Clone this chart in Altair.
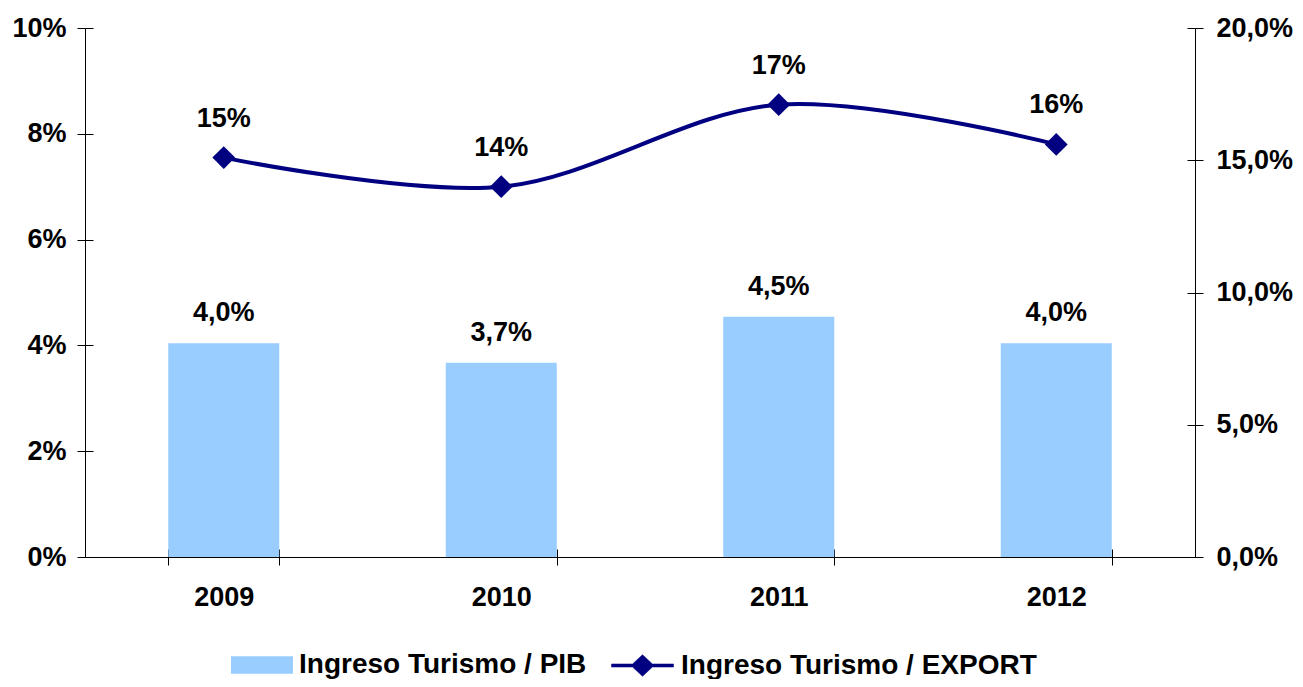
import altair as alt
import pandas as pd

years = ["2009", "2010", "2011", "2012"]
pib = [0.0404, 0.0367, 0.0454, 0.0404]          # Ingreso Turismo / PIB (left axis)
export = [0.151, 0.140, 0.171, 0.156]           # Ingreso Turismo / EXPORT (right axis)
left_ticks = [0, 0.02, 0.04, 0.06, 0.08, 0.10]
right_ticks = [0, 0.05, 0.10, 0.15, 0.20]
s1 = "Ingreso Turismo / PIB"
s2 = "Ingreso Turismo / EXPORT"

df = pd.DataFrame({"year": years, "pib": pib, "export": export,
                   "s1": [s1] * 4, "s2": [s2] * 4})

FONT = "Liberation Sans"
BAR = "#99CCFF"
NAVY = "#000080"
xscale = alt.Scale(paddingInner=0.6, paddingOuter=0.3)

x_main = alt.X("year:N", title=None, scale=xscale,
               axis=alt.Axis(labelAngle=0, tickBand="extent", tickSize=8,
                             labelPadding=19, labelFontSize=27, labelFont=FONT,
                             labelFontWeight="bold", labelColor="black",
                             domainColor="black", tickColor="black"))
x_inner = alt.X("year:N", title=None, scale=xscale,
                axis=alt.Axis(tickBand="extent", tickSize=8, offset=-8, labels=False,
                              domain=False, tickColor="black", orient="bottom"))
x_none = alt.X("year:N", title=None, scale=xscale, axis=None)

yl_scale = alt.Scale(domain=[0, 0.1], nice=False)
yr_scale = alt.Scale(domain=[0, 0.2], nice=False)

left_axis = alt.Axis(values=left_ticks, format=".0%", orient="left", grid=False,
                     tickSize=8, labelPadding=11, labelFontSize=27, labelFont=FONT,
                     labelFontWeight="bold", labelColor="black",
                     domainColor="black", tickColor="black", title=None)
right_axis = alt.Axis(values=right_ticks, orient="right", grid=False,
                      labelExpr="replace(format(datum.value, '.1%'), '.', ',')",
                      tickSize=8, labelPadding=13, labelFontSize=27, labelFont=FONT,
                      labelFontWeight="bold", labelColor="black", labelLimit=200,
                      domainColor="black", tickColor="black", title=None)
left_inner = alt.Axis(values=left_ticks, orient="left", grid=False, tickSize=8, offset=-8,
                      labels=False, domain=False, tickColor="black", title=None)
right_inner = alt.Axis(values=right_ticks, orient="right", grid=False, tickSize=8, offset=-8,
                       labels=False, domain=False, tickColor="black", title=None)

base = alt.Chart(df)

bars = base.mark_bar(size=111).encode(
    x=x_main,
    y=alt.Y("pib:Q", scale=yl_scale, axis=left_axis),
    color=alt.Color("s1:N", scale=alt.Scale(range=[BAR]),
                    legend=alt.Legend(title=None, orient="none", legendX=146, legendY=606,
                                      symbolType="M-1,-0.28H1V0.28H-1Z", symbolSize=3844,
                                      symbolStrokeWidth=0, symbolOpacity=1,
                                      labelFontSize=28, labelFont=FONT, labelFontWeight="bold",
                                      labelColor="black", labelOffset=6, labelLimit=1000,
                                      padding=0)),
)

bar_text = base.mark_text(font=FONT, fontSize=27, fontWeight="bold", color="black",
                          baseline="alphabetic", dy=-22).transform_calculate(
    lab="replace(format(datum.pib, '.1%'), '.', ',')"
).encode(
    x=x_main,
    y=alt.Y("pib:Q", scale=yl_scale, axis=left_axis),
    text="lab:N",
)

line = base.mark_line(strokeWidth=4, interpolate="catmull-rom").encode(
    x=x_inner,
    y=alt.Y("export:Q", scale=yr_scale, axis=right_axis),
    stroke=alt.Stroke("s2:N", scale=alt.Scale(range=[NAVY]),
                      legend=alt.Legend(title=None, orient="none", legendX=526, legendY=606,
                                        symbolType="M-1,-0.05H-0.32L0,-0.35L0.32,-0.05H1V0.05H0.32L0,0.35L-0.32,0.05H-1Z",
                                        symbolSize=3844, symbolFillColor=NAVY,
                                        symbolStrokeColor=NAVY, symbolStrokeWidth=0.5,
                                        labelFontSize=28, labelFont=FONT, labelFontWeight="bold",
                                        labelColor="black", labelOffset=7, labelLimit=1000,
                                        padding=0)),
)

pts = base.mark_point(shape="diamond", filled=True, size=520, color=NAVY, opacity=1).encode(
    x=x_inner,
    y=alt.Y("export:Q", scale=yr_scale, axis=right_axis),
)

line_text = base.mark_text(font=FONT, fontSize=27, fontWeight="bold", color="black",
                           baseline="alphabetic", dy=-31).encode(
    x=x_inner,
    y=alt.Y("export:Q", scale=yr_scale, axis=right_axis),
    text=alt.Text("export:Q", format=".0%"),
)

# invisible layers that only carry the inner half of the crossing y-axis ticks
ghost_left = base.mark_point(opacity=0).encode(
    x=x_none, y=alt.Y("pib:Q", scale=yl_scale, axis=left_inner))
ghost_right = base.mark_point(opacity=0).encode(
    x=x_none, y=alt.Y("export:Q", scale=yr_scale, axis=right_inner))

left_layer = alt.layer(bars, bar_text)
right_layer = alt.layer(line, pts, line_text)

chart = alt.layer(left_layer, right_layer, ghost_left, ghost_right).resolve_scale(
    y="independent", color="independent"
).resolve_axis(
    x="independent", y="independent"
).properties(
    width=1110, height=529,
    autosize=alt.AutoSizeParams(type="none"),
    padding={"left": 77, "top": 20, "right": 100, "bottom": 122},
).configure_view(stroke=None)

chart.save("out.html", embed_options={"renderer": "svg", "actions": False})
